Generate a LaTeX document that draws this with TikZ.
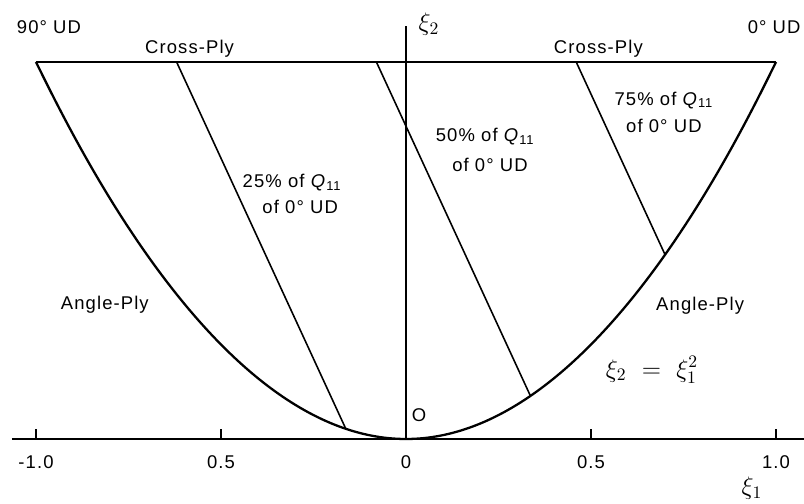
\documentclass[tikz,border=0pt]{standalone}
\usepackage{fontspec}
\setmainfont{Liberation Sans}[LetterSpace=6]
\usetikzlibrary{positioning}

\begin{document}
\begin{tikzpicture}[
    x=7.4cm, y=7.54cm,
    lbl/.style={inner sep=1pt, font=\fontsize{10.5}{12}\selectfont},
    mlbl/.style={inner sep=1pt, font=\fontsize{14}{16}\selectfont},
    bound/.style={line width=1.3pt},
    isoline/.style={line width=0.9pt},
    axisline/.style={line width=1pt}
]
\useasboundingbox (-8.12cm,-1.3cm) rectangle (7.96cm,8.78cm);

% axes
\coordinate (xl) at (-1.065,0);
\coordinate (xr) at (1.076,0);
\coordinate (o) at (0,0);
\coordinate (ytop) at (0,1.095);
\draw[axisline] (xl) -- (xr);
\draw[axisline] (o) -- (ytop);
\foreach \t in {-1,-0.5,0.5,1}
  \draw[axisline] (\t,0) -- ++(0,0.2cm);

% region: top line and parabola
\coordinate (tl) at (-1,1);
\coordinate (tr) at (1,1);
\draw[bound] (tl) -- (tr);
\draw[bound] (tl) parabola bend (o) (tr);

% lines of constant Q11
\coordinate (top25) at (-0.62,1);
\coordinate (bot25) at (-0.1624,0.0264);
\coordinate (top50) at (-0.08,1);
\coordinate (bot50) at (0.3367,0.1134);
\coordinate (top75) at (0.46,1);
\coordinate (bot75) at (0.6998,0.4897);
\draw[isoline] (top25) -- (bot25);
\draw[isoline] (top50) -- (bot50);
\draw[isoline] (top75) -- (bot75);

% labels
\node[lbl] (ud90) at (-0.965,1.093) {90° UD};
\node[lbl] (ud0) at (0.995,1.093) {0° UD};
\node[lbl] (crossl) at (-0.585,1.036) {Cross-Ply};
\node[lbl] (crossr) at (0.520,1.036) {Cross-Ply};
\node[mlbl] (xitwo) at (0.062,1.101) {$\xi_2$};
\node[lbl] (p25a) at (-0.308,0.679) {25\% of \textit{Q}\textsubscript{11}};
\node[lbl] (p25b) at (-0.286,0.615) {of 0° UD};
\node[lbl] (p50a) at (0.214,0.801) {50\% of \textit{Q}\textsubscript{11}};
\node[lbl] (p50b) at (0.227,0.727) {of 0° UD};
\node[lbl] (p75a) at (0.697,0.899) {75\% of \textit{Q}\textsubscript{11}};
\node[lbl] (p75b) at (0.697,0.830) {of 0° UD};
\node[lbl] (anglel) at (-0.814,0.355) {Angle-Ply};
\node[lbl] (angler) at (0.795,0.353) {Angle-Ply};
\node[mlbl] (eqn) at (0.665,0.183) {$\xi_2\ =\ \xi_1^2$};
\node[lbl] (orig) at (0.035,0.064) {O};
\node[lbl] (tm1) at (-1,-0.061) {-1.0};
\node[lbl] (tm05) at (-0.5,-0.061) {0.5};
\node[lbl] (t0) at (0,-0.061) {0};
\node[lbl] (t05) at (0.5,-0.061) {0.5};
\node[lbl] (t1) at (1,-0.061) {1.0};
\node[mlbl] (xione) at (0.935,-0.130) {$\xi_1$};
\end{tikzpicture}
\end{document}
